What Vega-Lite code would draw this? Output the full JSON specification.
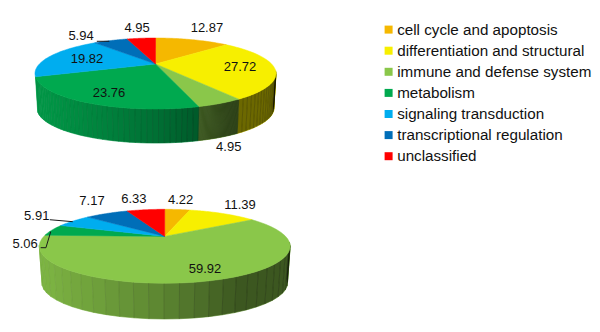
{"$schema":"https://vega.github.io/schema/vega-lite/v6.json","width":600,"height":332,"autosize":{"type":"fit","contains":"padding"},"padding":0,"background":"white","config":{"view":{"stroke":null},"font":"Liberation Sans"},
"data":{"values":[
{"panel":"a","ord":1,"category":"cell cycle and apoptosis","value":12.87},
{"panel":"a","ord":2,"category":"differentiation and structural","value":27.72},
{"panel":"a","ord":3,"category":"immune and defense system","value":4.95},
{"panel":"a","ord":4,"category":"metabolism","value":23.76},
{"panel":"a","ord":5,"category":"signaling transduction","value":19.82},
{"panel":"a","ord":6,"category":"transcriptional regulation","value":5.94},
{"panel":"a","ord":7,"category":"unclassified","value":4.95},
{"panel":"b","ord":1,"category":"cell cycle and apoptosis","value":4.22},
{"panel":"b","ord":2,"category":"differentiation and structural","value":11.39},
{"panel":"b","ord":3,"category":"immune and defense system","value":59.92},
{"panel":"b","ord":4,"category":"metabolism","value":5.06},
{"panel":"b","ord":5,"category":"signaling transduction","value":5.91},
{"panel":"b","ord":6,"category":"transcriptional regulation","value":7.17},
{"panel":"b","ord":7,"category":"unclassified","value":6.33}
]},
"transform":[
{"stack":"value","groupby":["panel"],"sort":[{"field":"ord","order":"ascending"}],"as":["v0","v1"]},
{"calculate":"datum.v0/100*2*PI","as":"a0"},
{"calculate":"datum.v1/100*2*PI","as":"a1"},
{"calculate":"datum.panel+datum.ord","as":"key"},
{"calculate":"datum.panel=='a'?155.5:164.7","as":"cx"},
{"calculate":"datum.panel=='a'?120.5:125.5","as":"rx"},
{"calculate":"datum.panel=='a'?73.5:246.3","as":"cy"},
{"calculate":"datum.panel=='a'?35.5:37","as":"ry"},
{"calculate":"datum.panel=='a'?118.3:122.8","as":"rx2"},
{"calculate":"datum.panel=='a'?108.5:283","as":"cy2"},
{"calculate":"datum.panel=='a'?34.5:36","as":"ry2"}
],
"layer":[
{"transform":[
{"calculate":"[0,1,2,3,4,5,6,7,8,9,10,11,12,13,14,15,16,17,18,19,20,21,22,23,24,25,26,27,28,29,30,31,32,33,34,35,36,37,38,39]","as":"k"},
{"flatten":["k"]},
{"calculate":"datum.a0+(datum.a1-datum.a0)*datum.k/40","as":"ka"},
{"calculate":"datum.a0+(datum.a1-datum.a0)*(datum.k+1)/40","as":"kb"},
{"calculate":"(datum.ka+datum.kb)/2","as":"am"},
{"filter":"datum.am*180/PI>102 && datum.am*180/PI<(datum.panel=='a'?250:256)"},
{"calculate":"[0,1,2,3]","as":"c"},
{"flatten":["c"]},
{"calculate":"datum.c==0||datum.c==3?datum.ka:datum.kb","as":"ang"},
{"calculate":"datum.key+'-'+datum.k","as":"strip"},
{"calculate":"1+0.268*cos(datum.ang)","as":"den"},
{"calculate":"datum.cx+(datum.c<2?datum.rx:datum.rx2)*0.9635*sin(datum.ang)/datum.den","as":"x"},
{"calculate":"(datum.c<2?datum.cy:datum.cy2)-(datum.c<2?datum.ry:datum.ry2)*(cos(datum.ang)+0.268)/datum.den","as":"y"},
{"calculate":"0.9635*sin(datum.am)/(1+0.268*cos(datum.am))","as":"u"},
{"calculate":"datum.u<0?0.33+0.25*datum.u:min(0.56,0.33+0.38*datum.u)","as":"shade"}
],"layer":[
{"mark":{"type":"line","filled":true,"strokeWidth":0.6,"interpolate":"linear-closed"},
"encoding":{"x":{"field":"x","type":"quantitative","scale":{"domain":[0,600],"nice":false,"zero":false},"axis":null},"y":{"field":"y","type":"quantitative","scale":{"domain":[332,0],"nice":false,"zero":false},"axis":null},"order":{"field":"c"},"detail":{"field":"strip"},
"fill":{"field":"category","type":"nominal","scale":{"domain":["cell cycle and apoptosis","differentiation and structural","immune and defense system","metabolism","signaling transduction","transcriptional regulation","unclassified"],"range":["#F5B800","#F7EF00","#8AC74A","#00A94F","#00ADEF","#006EB8","#FF0000"]},
"legend":{"title":null,"orient":"none","legendX":381,"legendY":22,"symbolType":"square","symbolSize":64,"symbolStrokeWidth":0,"labelFont":"Liberation Sans","labelFontSize":15.2,"labelColor":"#111111","labelLimit":260,"labelOffset":1,"rowPadding":5.1,"padding":0}},
"stroke":{"field":"category","type":"nominal","scale":{"domain":["cell cycle and apoptosis","differentiation and structural","immune and defense system","metabolism","signaling transduction","transcriptional regulation","unclassified"],"range":["#F5B800","#F7EF00","#8AC74A","#00A94F","#00ADEF","#006EB8","#FF0000"]},"legend":null}}},
{"mark":{"type":"line","filled":true,"fill":"black","stroke":"black","strokeWidth":0.4,"interpolate":"linear-closed"},
"encoding":{"x":{"field":"x","type":"quantitative","axis":null},"y":{"field":"y","type":"quantitative","axis":null},"order":{"field":"c"},"detail":{"field":"strip"},"opacity":{"field":"shade","type":"quantitative","scale":null,"legend":null}}}
]},
{"transform":[
{"calculate":"[-1,0,1,2,3,4,5,6,7,8,9,10,11,12,13,14,15,16,17,18,19,20,21,22,23,24,25,26,27,28,29,30,31,32,33,34,35,36,37,38,39,40]","as":"k"},
{"flatten":["k"]},
{"calculate":"datum.k<0?0:1","as":"r"},
{"calculate":"datum.a0+(datum.a1-datum.a0)*max(datum.k,0)/40","as":"ang"},
{"calculate":"1+0.268*datum.r*cos(datum.ang)","as":"den"},
{"calculate":"datum.cx+datum.rx*0.9635*datum.r*sin(datum.ang)/datum.den","as":"x"},
{"calculate":"datum.cy-datum.ry*(datum.r*cos(datum.ang)+0.268)/datum.den","as":"y"}
],
"mark":{"type":"line","filled":true,"strokeWidth":0.5,"interpolate":"linear-closed"},
"encoding":{"x":{"field":"x","type":"quantitative","axis":null},"y":{"field":"y","type":"quantitative","axis":null},"order":{"field":"k"},"detail":{"field":"key"},
"stroke":{"field":"category","type":"nominal","scale":{"domain":["cell cycle and apoptosis","differentiation and structural","immune and defense system","metabolism","signaling transduction","transcriptional regulation","unclassified"],"range":["#F5B800","#F7EF00","#8AC74A","#00A94F","#00ADEF","#006EB8","#FF0000"]},"legend":null},
"fill":{"field":"category","type":"nominal"}}},
{"transform":[
{"calculate":"({a6:[[1.048,-7.8,0],[0.975,-1.5,1]],b5:[[1.226,-3.7,0],[0.985,-1.4,1]],b4:[[0.99,-28.8,0],[0.952,-29.6,1],[0.989,-2.7,2]]})[datum.key]","as":"pts"},
{"filter":"isValid(datum.pts)"},
{"flatten":["pts"]},
{"calculate":"datum.pts[0]","as":"r"},
{"calculate":"(datum.a0+datum.a1)/2+datum.pts[1]*PI/180","as":"ang"},
{"calculate":"1+0.268*datum.r*cos(datum.ang)","as":"den"},
{"calculate":"datum.cx+datum.rx*0.9635*datum.r*sin(datum.ang)/datum.den","as":"x"},
{"calculate":"datum.cy-datum.ry*(datum.r*cos(datum.ang)+0.268)/datum.den","as":"y"},
{"calculate":"datum.pts[2]","as":"i"}
],
"mark":{"type":"line","color":"#1a1a1a","strokeWidth":1},
"encoding":{"x":{"field":"x","type":"quantitative","axis":null},"y":{"field":"y","type":"quantitative","axis":null},"order":{"field":"i"},"detail":{"field":"key"}}},
{"transform":[
{"calculate":"({a1:[1.667,-1.1],a2:[0.716,0.9],a3:[1.55,10.9],a4:[0.782,-2.2],a5:[0.634,-0.9],a6:[1.377,-8.6],a7:[1.561,0.6],b1:[1.49,-0.5],b2:[1.464,-1.4],b3:[0.802,-3.4],b4:[1.11,-21.7],b5:[1.442,-1.5],b6:[1.647,5.4],b7:[1.577,-1.8]})[datum.key]","as":"lab"},
{"calculate":"datum.lab[0]","as":"r"},
{"calculate":"(datum.a0+datum.a1)/2+datum.lab[1]*PI/180","as":"ang"},
{"calculate":"1+0.268*datum.r*cos(datum.ang)","as":"den"},
{"calculate":"datum.cx+datum.rx*0.9635*datum.r*sin(datum.ang)/datum.den","as":"x"},
{"calculate":"datum.cy-datum.ry*(datum.r*cos(datum.ang)+0.268)/datum.den","as":"y"}
],
"mark":{"type":"text","font":"Liberation Sans","fontSize":13,"color":"#111111","align":"center","baseline":"middle"},
"encoding":{"x":{"field":"x","type":"quantitative","axis":null},"y":{"field":"y","type":"quantitative","axis":null},"text":{"field":"value","type":"quantitative","format":".2f"}}}
]}
